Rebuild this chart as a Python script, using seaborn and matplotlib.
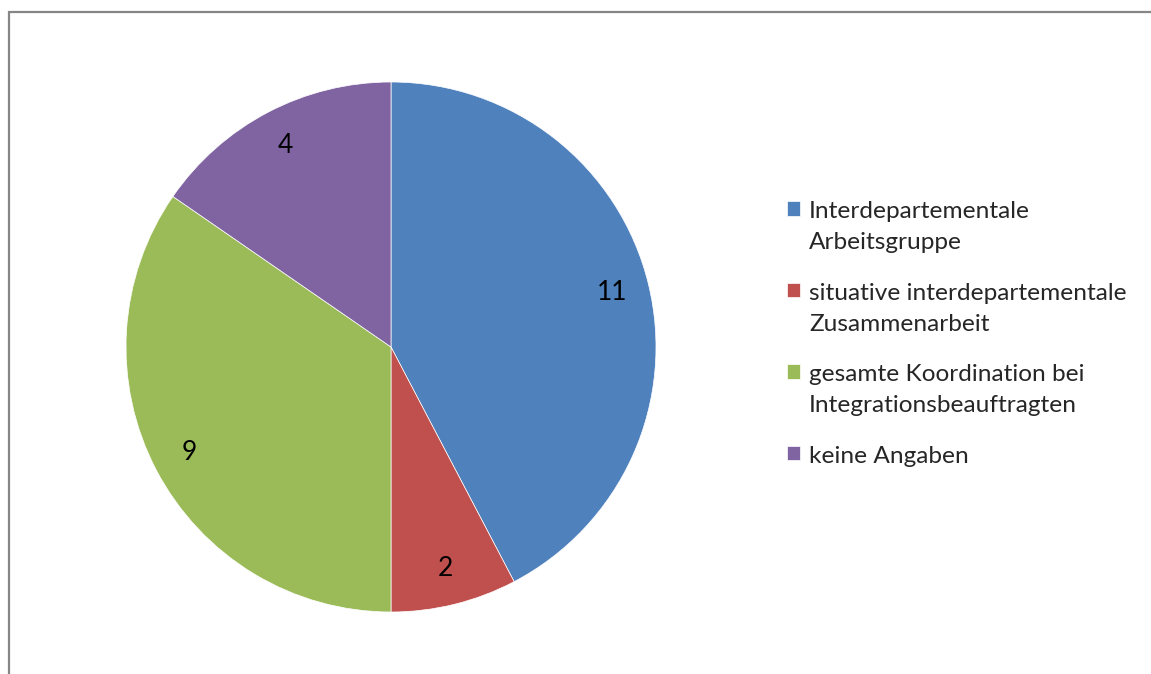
import matplotlib
matplotlib.use("Agg")
import matplotlib.pyplot as plt
from matplotlib.patches import Rectangle
import seaborn as sns

categories = [
    "Interdepartementale\nArbeitsgruppe",
    "situative interdepartementale\nZusammenarbeit",
    "gesamte Koordination bei\nIntegrationsbeauftragten",
    "keine Angaben",
]
values = [11, 2, 9, 4]
colors = ["#4F81BD", "#C0504D", "#9BBB59", "#8064A2"]

sns.set_theme(style="white")
plt.rcParams["font.family"] = ["Lato", "DejaVu Sans"]
palette = sns.color_palette(colors)

W, H = 1151, 674
fig = plt.figure(figsize=(W / 100, H / 100), dpi=100)
fig.patch.set_facecolor("white")

cx, cy, r = 391, 347, 265
ax = fig.add_axes([(cx - r) / W, (H - cy - r) / H, 2 * r / W, 2 * r / H])
total = sum(values)
wedges, texts, autotexts = ax.pie(
    values,
    colors=palette,
    startangle=90,
    counterclock=False,
    autopct=lambda p: f"{p * total / 100:.0f}",
    pctdistance=0.86,
    radius=1,
    wedgeprops=dict(edgecolor="white", linewidth=0.5),
    textprops=dict(fontsize=19, color="black"),
)
ax.set_xlim(-1, 1)
ax.set_ylim(-1, 1)
ax.set_aspect("equal")
ax.axis("off")

leg = fig.legend(
    wedges,
    categories,
    loc="upper left",
    bbox_to_anchor=(787 / W, 1 - 201 / H),
    frameon=False,
    fontsize=17.6,
    handlelength=0.55,
    handleheight=0.55,
    handletextpad=0.35,
    labelspacing=1.2,
    borderpad=0,
    borderaxespad=0,
)
for t in leg.get_texts():
    t.set_linespacing(1.6)
for col in leg._legend_handle_box.get_children():
    for item in col.get_children():
        item.align = "top"

fig.add_artist(Rectangle((8.5 / W, -0.05), 1.2, (H - 11.5) / H + 0.05,
                         transform=fig.transFigure, fill=False,
                         edgecolor="#868686", linewidth=1.6))

fig.savefig("out.png", dpi=100, facecolor="white")
